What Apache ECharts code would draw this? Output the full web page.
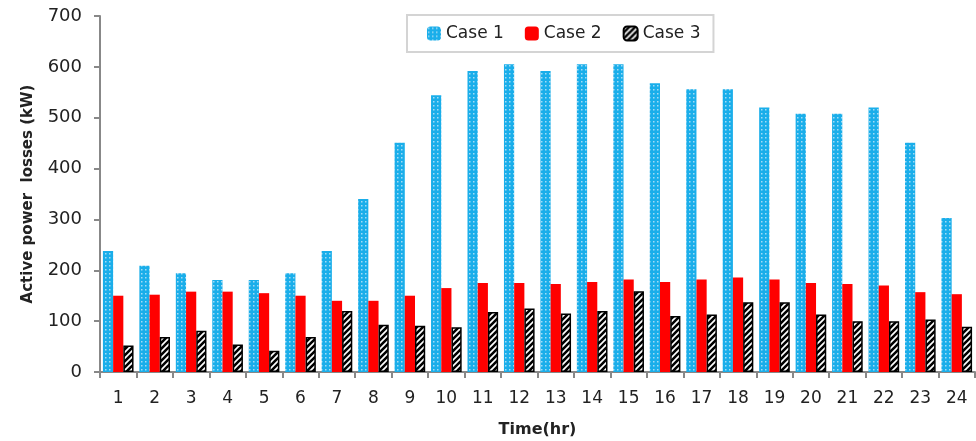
<!DOCTYPE html>
<html>
<head>
<meta charset="utf-8">
<script src="https://cdn.jsdelivr.net/npm/echarts@6/dist/echarts.min.js"></script>
<style>
html,body{margin:0;padding:0;background:#fff;}
#chart{width:976px;height:441px;}
</style>
</head>
<body>
<div id="chart"></div>
<script>
const hours = ['1','2','3','4','5','6','7','8','9','10','11','12','13','14','15','16','17','18','19','20','21','22','23','24'];
const case1 = [238,209,194,181,181,194,238,340,451,544,592,605,592,605,605,568,556,556,520,508,508,520,451,303];
const case2 = [150,152,158,158,155,150,140,140,150,165,175,175,173,177,182,177,182,186,182,175,173,170,157,153];
const case3 = [52,69,81,54,42,69,120,93,91,88,118,125,115,120,159,110,113,137,137,113,100,100,103,89];
const yTicks = [0,100,200,300,400,500,600,700];

function dotPattern(){
  const c = document.createElement('canvas');
  c.width = 4; c.height = 4;
  const g = c.getContext('2d');
  g.fillStyle = '#1aaeea';
  g.fillRect(0,0,4,4);
  g.fillStyle = '#a3dcf5';
  g.fillRect(1,1,1.5,1.5);
  return c;
}
function stripePattern(){
  const s = 6;
  const c = document.createElement('canvas');
  c.width = s; c.height = s;
  const g = c.getContext('2d');
  g.fillStyle = '#ffffff';
  g.fillRect(0,0,s,s);
  g.strokeStyle = '#000000';
  g.lineWidth = 2.6;
  g.beginPath();
  g.moveTo(-1, s+1); g.lineTo(s+1, -1);
  g.moveTo(-1, 1); g.lineTo(1, -1);
  g.moveTo(s-1, s+1); g.lineTo(s+1, s-1);
  g.stroke();
  return c;
}

const chart = echarts.init(document.getElementById('chart'), null, {renderer:'canvas'});
const fontFam = '"DejaVu Sans", sans-serif';
chart.setOption({
  animation:false,
  backgroundColor:'#ffffff',
  textStyle:{fontFamily:fontFam},
  grid:{left:100, right:1, top:16, bottom:69, containLabel:false, outerBoundsMode:'none'},
  legend:{
    left:407, top:15,
    padding:[10,13,10,20],
    itemGap:21,
    itemWidth:14, itemHeight:14,
    borderColor:'#d4d4d4', borderWidth:2,
    textStyle:{fontSize:17, color:'#222', fontFamily:fontFam},
    data:['Case 1','Case 2','Case 3']
  },
  xAxis:{
    type:'category',
    data:hours,
    name:'Time(hr)',
    nameLocation:'middle',
    nameGap:50,
    nameTextStyle:{fontSize:16, fontWeight:'bold', color:'#222', fontFamily:fontFam},
    axisLine:{lineStyle:{color:'#888', width:2}},
    axisTick:{show:true, length:6, lineStyle:{color:'#888', width:2}},
    axisLabel:{fontSize:17, color:'#222', margin:18, fontFamily:fontFam}
  },
  yAxis:{
    type:'value',
    min:0, max:700, interval:100,
    name:'Active power  losses (kW)',
    nameLocation:'middle',
    nameGap:64,
    nameTextStyle:{fontSize:15, fontWeight:'bold', color:'#222', fontFamily:fontFam},
    axisLine:{show:true, lineStyle:{color:'#888', width:2}},
    axisTick:{show:true, length:6, lineStyle:{color:'#888', width:2}},
    splitLine:{show:false},
    axisLabel:{fontSize:18, color:'#222', margin:18, fontFamily:fontFam,
      formatter:function(v){ return yTicks.indexOf(v) >= 0 ? String(v) : ''; }}
  },
  series:[
    {name:'Case 1', type:'bar', data:case1, barGap:'0%', barCategoryGap:'16%',
     itemStyle:{color:{image:dotPattern(), repeat:'repeat'}}},
    {name:'Case 2', type:'bar', data:case2,
     itemStyle:{color:'#ff0000'}},
    {name:'Case 3', type:'bar', data:case3,
     itemStyle:{color:{image:stripePattern(), repeat:'repeat'}, borderColor:'#000', borderWidth:1.5}}
  ]
});
</script>
</body>
</html>
